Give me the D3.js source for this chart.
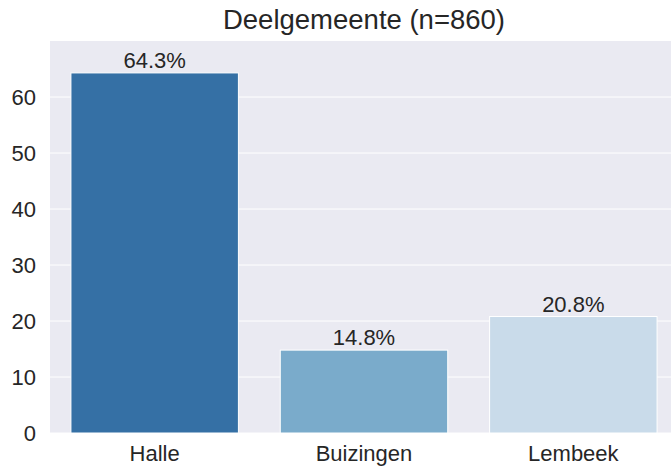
<!DOCTYPE html>
<html>
<head>
<meta charset="utf-8">
<style>
  body { margin: 0; background: #fff; }
  text { font-family: "Liberation Sans", Arial, sans-serif; fill: #262626; }
</style>
</head>
<body>
<svg width="671" height="466"></svg>
<script src="https://d3js.org/d3.v7.min.js"></script>
<script>
// chart values
var categories = ["Halle", "Buizingen", "Lembeek"];
var percentages = [64.3, 14.8, 20.8];
var barColors = ["#3570a5", "#7aabcb", "#c9dbea"];
var yTicks = [0, 10, 20, 30, 40, 50, 60];
var title = "Deelgemeente (n=860)";

var svg = d3.select("svg");
var margin = {top: 41, left: 50, bottom: 33};
var plotW = 628;   // axes run past the right edge of the picture
var plotH = 466 - margin.top - margin.bottom;

var x = d3.scaleBand()
    .domain(categories)
    .range([margin.left, margin.left + plotW])
    .paddingInner(0.2)
    .paddingOuter(0.1);

var y = d3.scaleLinear()
    .domain([0, 70])
    .range([margin.top + plotH, margin.top]);

// background
svg.append("rect")
    .attr("x", margin.left)
    .attr("y", margin.top)
    .attr("width", plotW)
    .attr("height", plotH)
    .attr("fill", "#eaeaf2");

// grid lines
svg.append("g")
  .selectAll("line")
  .data(yTicks)
  .enter().append("line")
    .attr("x1", margin.left)
    .attr("x2", margin.left + plotW)
    .attr("y1", function(d) { return y(d); })
    .attr("y2", function(d) { return y(d); })
    .attr("stroke", "#fff")
    .attr("stroke-width", 1);

// bars
svg.append("g")
  .selectAll("rect")
  .data(percentages)
  .enter().append("rect")
    .attr("x", function(d, i) { return x(categories[i]); })
    .attr("y", function(d) { return y(d); })
    .attr("width", x.bandwidth())
    .attr("height", function(d) { return y(0) - y(d); })
    .attr("fill", function(d, i) { return barColors[i]; })
    .attr("stroke", "#fff")
    .attr("stroke-width", 1);

// bar labels
svg.append("g")
  .selectAll("text")
  .data(percentages)
  .enter().append("text")
    .attr("x", function(d, i) { return x(categories[i]) + x.bandwidth() / 2; })
    .attr("y", function(d) { return y(d) - 5; })
    .attr("text-anchor", "middle")
    .attr("font-size", "22px")
    .text(function(d) { return d.toFixed(1) + "%"; });

// y axis
var yAxis = svg.append("g")
    .attr("transform", "translate(" + margin.left + ",0)")
    .call(d3.axisLeft(y).tickValues(yTicks).tickSize(0).tickPadding(14));
yAxis.select(".domain").remove();
yAxis.selectAll("text").attr("font-size", "22px").attr("fill", "#262626");

// x axis
var xAxis = svg.append("g")
    .attr("transform", "translate(0," + (margin.top + plotH) + ")")
    .call(d3.axisBottom(x).tickSize(0).tickPadding(12));
xAxis.select(".domain").remove();
xAxis.selectAll("text").attr("font-size", "22px").attr("fill", "#262626");

// title
svg.append("text")
    .attr("x", 364)
    .attr("y", 29)
    .attr("text-anchor", "middle")
    .attr("font-size", "27.5px")
    .text(title);
</script>
</body>
</html>
